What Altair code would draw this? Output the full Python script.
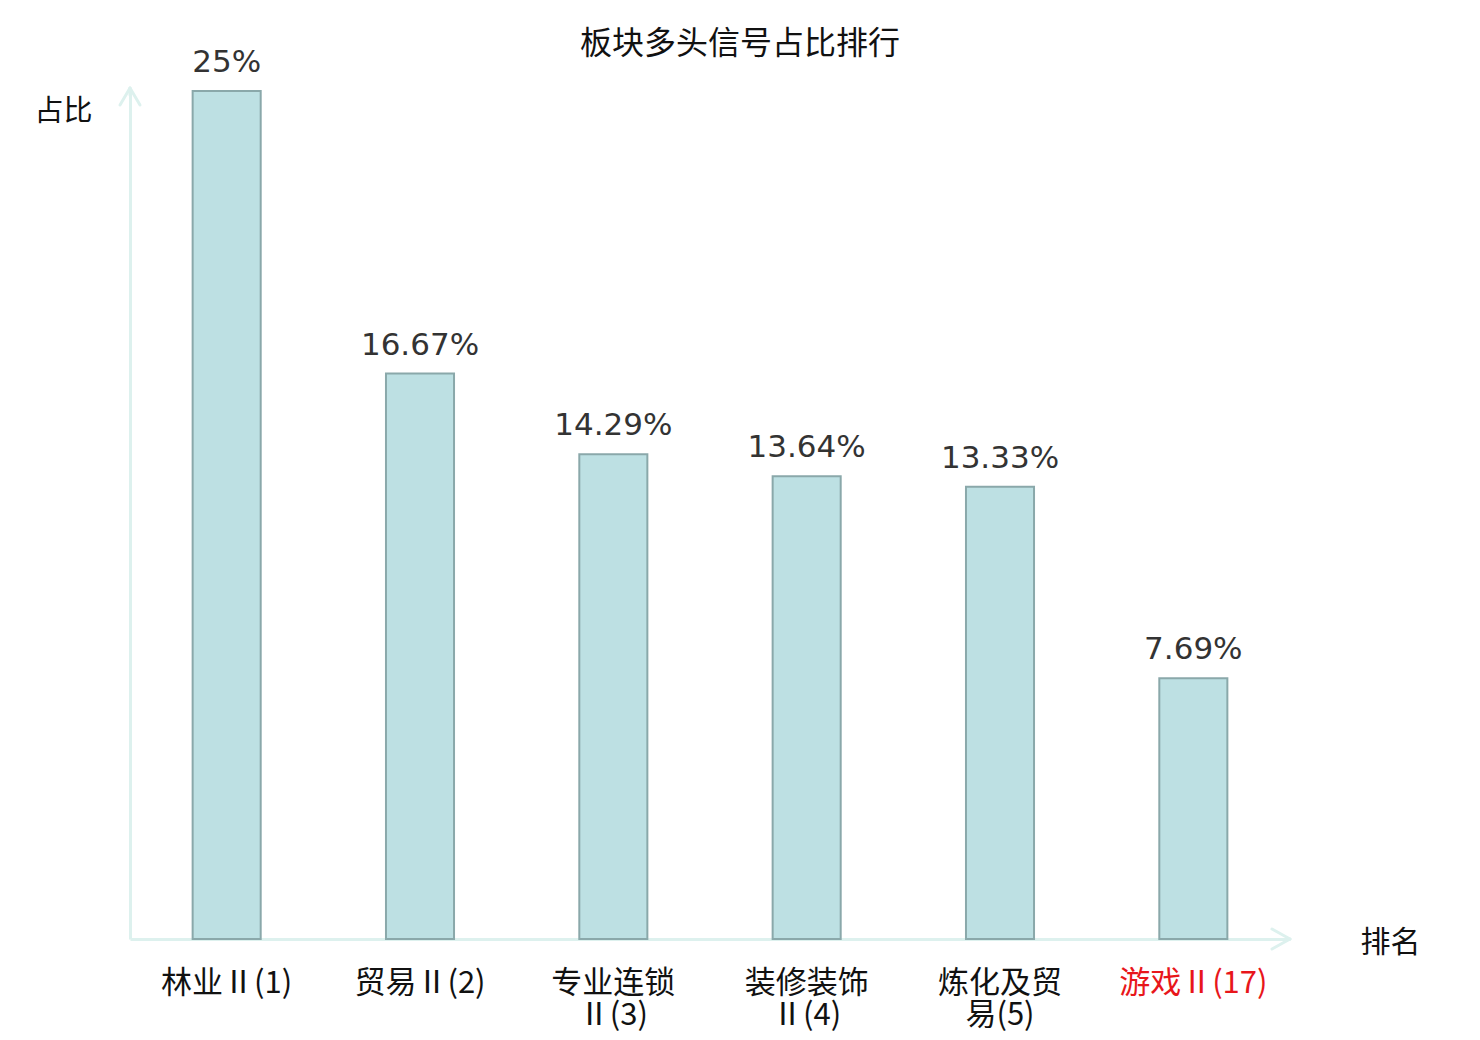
import altair as alt
import pandas as pd

categories = ["林业Ⅱ(1)", "贸易Ⅱ(2)", "专业连锁Ⅱ(3)", "装修装饰Ⅱ(4)", "炼化及贸易(5)", "游戏Ⅱ(17)"]
label_lines = [["林业Ⅱ(1)"], ["贸易Ⅱ(2)"], ["专业连锁", "Ⅱ(3)"], ["装修装饰", "Ⅱ(4)"], ["炼化及贸", "易(5)"], ["游戏Ⅱ(17)"]]
values = [25, 16.67, 14.29, 13.64, 13.33, 7.69]
value_labels = ["25%", "16.67%", "14.29%", "13.64%", "13.33%", "7.69%"]
chart_title = "板块多头信号占比排行"

df = pd.DataFrame({"cat": categories, "value": values, "label": value_labels})

label_map = {c: l for c, l in zip(categories, label_lines)}
label_expr = "{" + ",".join(
    "'" + c + "':[" + ",".join("'" + s + "'" for s in l) + "]" for c, l in label_map.items()
) + "}[datum.value]"

axis_color = "#ddf1ee"
cjk = "Noto Sans CJK SC"

x_enc = alt.X(
    "cat:N", sort=categories,
    scale=alt.Scale(paddingInner=0.648, paddingOuter=0.324),
    axis=alt.Axis(
        title="排名", titleFont=cjk, titleFontSize=30, titleFontWeight="normal",
        titleColor="#111111", titleAngle=0, titleX=1260, titleY=3, titleAlign="center",
        titleBaseline="middle",
        labelExpr=label_expr, labelFont=cjk, labelFontSize=31, labelAngle=0,
        labelColor={"condition": {"test": "datum.value == '游戏Ⅱ(17)'", "value": "#e8161b"}, "value": "#111111"},
        labelPadding=44, labelLineHeight=32, labelBaseline="middle",
        ticks=False, domainColor=axis_color, domainWidth=3,
    ),
)
y_enc = alt.Y(
    "value:Q", scale=alt.Scale(domain=[0, 25], nice=False),
    axis=alt.Axis(
        title="占比", titleFont=cjk, titleFontSize=29, titleFontWeight="normal",
        titleColor="#111111", titleAngle=0, titleX=-67, titleY=20, titleAlign="center",
        titleBaseline="middle",
        labels=False, ticks=False, grid=False, domainColor=axis_color, domainWidth=3,
    ),
)

bars = alt.Chart(df).mark_bar(
    fill="#bde0e3", stroke="#8aa8aa", strokeWidth=2
).encode(x=x_enc, y=y_enc)

text = alt.Chart(df).mark_text(
    baseline="bottom", dy=-12, font="DejaVu Sans", fontSize=31, color="#333333"
).encode(x=alt.X("cat:N", sort=categories), y="value:Q", text="label:N")

one = pd.DataFrame({"t": [chart_title]})
title_mark = alt.Chart(one).mark_text(
    font=cjk, fontSize=32, color="#111111", baseline="middle", align="center"
).encode(x=alt.value(610), y=alt.value(-47), text="t:N")

# arrow heads
def seg(x1, y1, x2, y2):
    return alt.Chart(one).mark_rule(color=axis_color, strokeWidth=3, strokeCap="round").encode(
        x=alt.value(x1), y=alt.value(y1), x2=alt.value(x2), y2=alt.value(y2))

arrows = [
    seg(-10, 14, 0, -3),
    seg(10, 14, 0, -3),
    seg(0, -3, 0, 4),
    seg(1142, 838, 1160, 848),
    seg(1142, 858, 1160, 848),
]

chart = alt.layer(bars, text, title_mark, *arrows).properties(
    width=1160, height=848,
    background="white",
    autosize=alt.AutoSizeParams(type="none"),
    padding={"left": 122, "top": 83, "right": 180, "bottom": 101},
).configure_view(stroke="transparent", strokeWidth=0)

chart.save("out.html", embed_options={"renderer": "svg", "actions": False})
